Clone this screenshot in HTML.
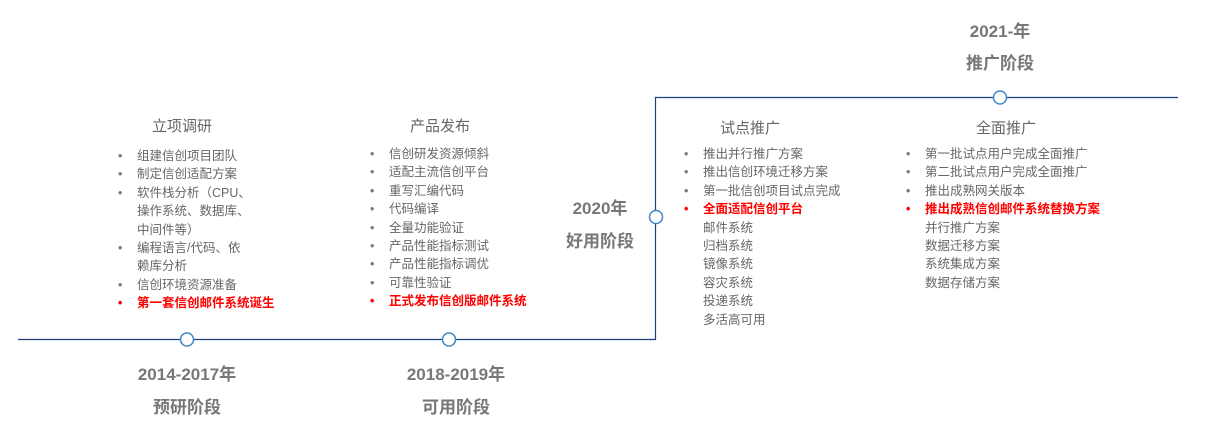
<!DOCTYPE html>
<html><head><meta charset="utf-8"><style>
body{margin:0;width:1207px;height:426px;background:#fff;position:relative;overflow:hidden;font-family:"Liberation Sans","Noto Sans CJK SC",sans-serif;}
.t{position:absolute;white-space:nowrap;}
.h{font-size:15px;color:#666;}
.big{font-size:17px;font-weight:bold;color:#777;text-align:center;width:200px;}
.l{position:absolute;font-size:12.5px;color:#666;line-height:18.4px;white-space:nowrap;}
.l div{position:relative;padding-left:19px;}
.l .b::before{content:"•";position:absolute;left:0;color:#777;}
.l .r{color:#f00;font-weight:bold;}
.l .r::before{color:#f00;}
</style></head><body>
<svg width="1207" height="426" style="position:absolute;left:0;top:0">
<polyline points="18,339.5 655.5,339.5 655.5,97.5 1178,97.5" fill="none" stroke="#1f3f7f" stroke-width="1.2"/>
<circle cx="187" cy="339.5" r="6.5" fill="#fff" stroke="#3d86c6" stroke-width="1.5"/>
<circle cx="449" cy="339.5" r="6.5" fill="#fff" stroke="#3d86c6" stroke-width="1.5"/>
<circle cx="656" cy="217" r="6.5" fill="#fff" stroke="#3d86c6" stroke-width="1.5"/>
<circle cx="1000" cy="97.5" r="6.5" fill="#fff" stroke="#3d86c6" stroke-width="1.5"/>
</svg>
<div class="t big" style="left:900px;top:17px">2021-年</div>
<div class="t big" style="left:900px;top:49px">推广阶段</div>
<div class="t big" style="left:500px;top:194px">2020年</div>
<div class="t big" style="left:500px;top:227px">好用阶段</div>
<div class="t big" style="left:87px;top:360px">2014-2017年</div>
<div class="t big" style="left:87px;top:393px">预研阶段</div>
<div class="t big" style="left:356px;top:360px">2018-2019年</div>
<div class="t big" style="left:356px;top:393px">可用阶段</div>
<div class="t h" style="left:152px;top:115px">立项调研</div>
<div class="t h" style="left:410px;top:115px">产品发布</div>
<div class="t h" style="left:720px;top:117px">试点推广</div>
<div class="t h" style="left:976px;top:117px">全面推广</div>
<div class="l" style="left:118px;top:147px">
<div class="b">组建信创项目团队</div>
<div class="b">制定信创适配方案</div>
<div class="b">软件栈分析（CPU、</div>
<div>操作系统、数据库、</div>
<div>中间件等）</div>
<div class="b">编程语言/代码、依</div>
<div>赖库分析</div>
<div class="b">信创环境资源准备</div>
<div class="b r">第一套信创邮件系统诞生</div>
</div>
<div class="l" style="left:370px;top:145px">
<div class="b">信创研发资源倾斜</div>
<div class="b">适配主流信创平台</div>
<div class="b">重写汇编代码</div>
<div class="b">代码编译</div>
<div class="b">全量功能验证</div>
<div class="b">产品性能指标测试</div>
<div class="b">产品性能指标调优</div>
<div class="b">可靠性验证</div>
<div class="b r">正式发布信创版邮件系统</div>
</div>
<div class="l" style="left:684px;top:145px">
<div class="b">推出并行推广方案</div>
<div class="b">推出信创环境迁移方案</div>
<div class="b">第一批信创项目试点完成</div>
<div class="b r">全面适配信创平台</div>
<div>邮件系统</div>
<div>归档系统</div>
<div>镜像系统</div>
<div>容灾系统</div>
<div>投递系统</div>
<div>多活高可用</div>
</div>
<div class="l" style="left:906px;top:145px">
<div class="b">第一批试点用户完成全面推广</div>
<div class="b">第二批试点用户完成全面推广</div>
<div class="b">推出成熟网关版本</div>
<div class="b r">推出成熟信创邮件系统替换方案</div>
<div>并行推广方案</div>
<div>数据迁移方案</div>
<div>系统集成方案</div>
<div>数据存储方案</div>
</div>
</body></html>
